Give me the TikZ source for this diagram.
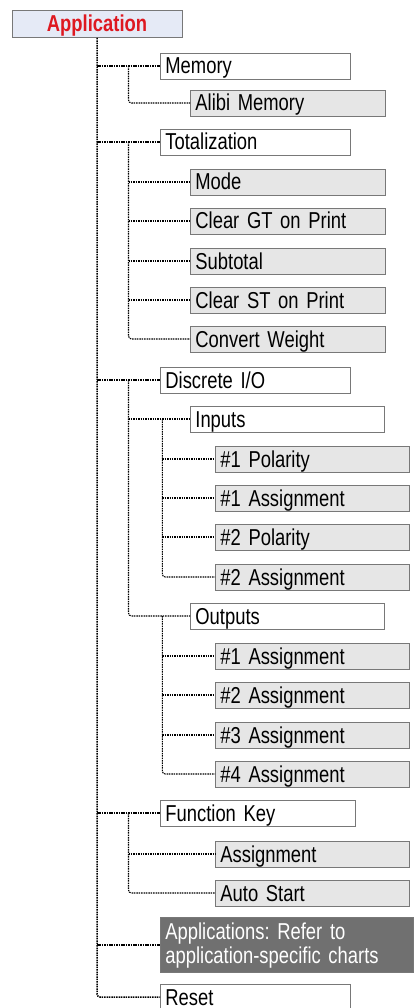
\documentclass[tikz,border=0pt]{standalone}
\usepackage{fontspec}
\setmainfont{Liberation Sans}[FakeStretch=0.8, WordSpace=0.6]
\frenchspacing
\usetikzlibrary{positioning, calc}
\definecolor{appred}{RGB}{222, 24, 32}
\definecolor{rootblue}{RGB}{229, 234, 246}
\definecolor{boxgray}{RGB}{120, 120, 120}
\definecolor{leafgray}{RGB}{230, 230, 230}
\definecolor{darkgray}{RGB}{112, 112, 112}

\begin{document}
\begin{tikzpicture}[x=1pt, y=-1pt, font=\fontsize{23}{24}\selectfont,
  box/.style={draw=boxgray, line width=0.8pt, anchor=west, minimum height=26pt,
              inner xsep=5pt, inner ysep=0pt, align=left, text height=17pt, text depth=1pt},
  menubox/.style={box, fill=white, text width=#1-10pt},
  menubox/.default=190pt,
  leafbox/.style={box, fill=leafgray, text width=#1-10pt},
  leafbox/.default=195pt,
  trunk/.style={line width=1.5pt, dash pattern=on 1.5pt off 0.9pt, rounded corners=3pt},
  twig/.style={line width=1.1pt, dash pattern=on 1.5pt off 0.9pt, rounded corners=3pt}]
  \useasboundingbox (0,0) rectangle (414,1008);

  % root
  \node[draw=boxgray, fill=rootblue, line width=0.8pt, minimum width=170pt, minimum height=27pt,
        inner sep=0pt, text=appred, text height=17pt, text depth=1pt,
        font=\fontsize{23}{24}\selectfont\bfseries]
        (app) at (97,24) {Application};

  % first level
  \node[menubox] (mem) at (160,66) {Memory};
  \node[menubox] (tot) at (160,142) {Totalization};
  \node[menubox] (dio) at (160,380) {Discrete I/O};
  \node[menubox=195pt] (fkey) at (160,813) {Function Key};
  \node[box, fill=darkgray, text=white, text width=243pt, minimum height=55pt,
        text height=17pt, text depth=29pt] (apps) at (160,945)
        {Applications: Refer to\\application-specific charts};
  \node[menubox] (reset) at (160,997) {Reset};

  % memory
  \node[leafbox] (alibi) at (190,103) {Alibi Memory};

  % totalization
  \foreach \n/\y/\t in {mode/182/Mode, cgt/221/Clear GT on Print, sub/261/Subtotal,
                        cst/300/Clear ST on Print, conv/339/Convert Weight}{
    \node[leafbox] (\n) at (190,\y) {\t};
  }

  % discrete I/O
  \node[menubox=194pt] (inp) at (190,419) {Inputs};
  \node[menubox=194pt] (outp) at (190,616) {Outputs};
  \foreach \n/\y/\t in {in1/459/\#1 Polarity, in2/498/\#1 Assignment,
                        in3/537/\#2 Polarity, in4/577/\#2 Assignment}{
    \node[leafbox=194pt] (\n) at (215,\y) {\t};
  }
  \foreach \i/\y in {1/656, 2/695, 3/735, 4/774}{
    \node[leafbox=194pt] (out\i) at (215,\y) {\#\i{} Assignment};
  }

  % function key
  \node[leafbox=194pt] (fassign) at (215,854) {Assignment};
  \node[leafbox=194pt] (fauto) at (215,893) {Auto Start};

  % connectors
  \draw[trunk] (app.south) |- (reset.west);
  \foreach \n in {mem, tot, dio, fkey, apps}
    \draw[twig] (app.south |- \n.west) -- (\n.west);

  \coordinate (memx) at ($(app.south |- mem.west)!.5!(mem.west)$);
  \draw[twig] (memx) |- (alibi.west);

  \coordinate (totx) at ($(app.south |- tot.west)!.5!(tot.west)$);
  \draw[twig] (totx) |- (conv.west);
  \foreach \n in {mode, cgt, sub, cst}
    \draw[twig] (totx |- \n.west) -- (\n.west);

  \coordinate (diox) at ($(app.south |- dio.west)!.5!(dio.west)$);
  \draw[twig] (diox) |- (outp.west);
  \draw[twig] (diox |- inp.west) -- (inp.west);

  \coordinate (inpx) at ($(diox |- inp.west)!.55!(inp.west)$);
  \draw[twig] (inpx) |- (in4.west);
  \foreach \n in {in1, in2, in3}
    \draw[twig] (inpx |- \n.west) -- (\n.west);

  \coordinate (outx) at ($(diox |- outp.west)!.55!(outp.west)$);
  \draw[twig] (outx) |- (out4.west);
  \foreach \n in {out1, out2, out3}
    \draw[twig] (outx |- \n.west) -- (\n.west);

  \coordinate (fkeyx) at ($(app.south |- fkey.west)!.5!(fkey.west)$);
  \draw[twig] (fkeyx) |- (fauto.west);
  \draw[twig] (fkeyx |- fassign.west) -- (fassign.west);
\end{tikzpicture}
\end{document}
